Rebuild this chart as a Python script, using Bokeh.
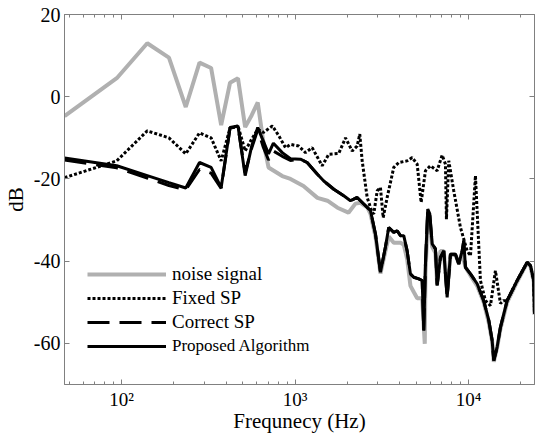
from bokeh.plotting import figure
from bokeh.models import (Range1d, LogAxis, LinearAxis, Legend, LegendItem, LogTicker,
                          FixedTicker, CustomJSTickFormatter)
from bokeh.embed import file_html
from bokeh.resources import INLINE

# ---------------- data ----------------
noise_freq = [46.9, 93.8, 140.6, 187.5, 234.4, 281.3, 328.1, 375.0, 421.9, 468.8, 515.6, 562.5,
              609.4, 656.3, 703.1, 843.8, 941, 1118, 1346, 1537, 1756, 2032, 2229, 2382, 2614,
              2721, 2907, 3106, 3320, 3468, 3706, 4051, 4232, 4427, 4625, 4833, 5058, 5403, 5594,
              5645, 5820, 5979, 6170, 6445, 6592, 6886, 7198, 7528, 7868, 8405, 8782, 9188, 9600,
              10260, 11210, 12230, 13080, 13680, 13980, 14620, 15270, 16690, 19070, 21770, 22750,
              23770, 24000]
noise_db = [-4.7, 4.5, 13.0, 9.5, -2.5, 8.3, 7.0, -6.9, 3.4, 4.5, -7.4, -4.5,
            -1.4, -11.0, -17.2, -19.3, -20.0, -21.7, -24.6, -25.3, -27.0, -28.2, -26.0, -25.8, -27.0,
            -28.5, -34.0, -43.0, -37.5, -34.0, -35.5, -35.5, -36.0, -39.5, -46.0, -47.5, -49.0, -49.0, -60.1,
            -43.0, -30.0, -31.0, -36.5, -38.0, -45.5, -37.5, -37.5, -47.5, -38.5, -38.5, -40.5, -38.0, -41.5,
            -43.5, -46.0, -50.0, -55.0, -59.5, -64.5, -61.0, -56.5, -50.0, -45.0, -40.4, -41.3,
            -45.0, -53.0]

fixed_freq = [46.9, 93.8, 140.6, 187.5, 234.4, 281.3, 328.1, 375.0, 421.9, 468.8, 515.6, 562.5,
              609.4, 656.3, 740, 806, 881, 941, 1050, 1148, 1255, 1433, 1564, 1786, 1953, 2134,
              2280, 2360, 2437, 2604, 2783, 2843, 2974, 3106, 3220, 3396, 3706, 3961, 4427, 4731,
              5058, 5331, 5645, 6032, 6592, 7044, 7361, 7457, 7692, 8219, 8981, 9817, 10260, 10960,
              11710, 12510, 13380, 14290, 15270, 15890, 16690, 19070, 21770, 22750, 23770, 24000]
fixed_db = [-19.7, -15.6, -8.3, -10.0, -13.9, -8.8, -10.0, -15.6, -7.6, -7.1, -13.2, -10.3,
            -7.9, -8.7, -7.1, -9.5, -12.4, -11.6, -12.0, -13.6, -12.4, -16.8, -14.0, -13.8, -10.0, -13.2,
            -12.0, -9.1, -15.6, -24.5, -28.2, -28.5, -22.9, -22.1, -29.4, -24.5, -17.2, -16.0, -15.6, -14.8,
            -16.4, -25.7, -18.0, -16.8, -18.0, -14.2, -16.4, -29.8, -15.6, -22.9, -31.8, -37.5, -38.7, -19.2,
            -44.7, -49.6, -50.8, -42.3, -50.3, -49.6, -49.6, -44.7, -40.3, -41.1, -44.7, -52.8]

alg_freq = [46.9, 93.8, 140.6, 187.5, 234.4, 281.3, 328.1, 375.0, 421.9, 468.8, 515.6, 562.5,
            609.4, 656.3, 703.1, 750.0, 843.8, 941, 1074, 1174, 1341, 1464, 1672, 1909, 2086, 2280,
            2489, 2721, 2907, 3106, 3320, 3468, 3706, 3878, 4051, 4232, 4427, 4625, 4833, 5166, 5403,
            5520, 5645, 5820, 5979, 6170, 6445, 6592, 6886, 7198, 7528, 7868, 8405, 8782, 9188, 9385,
            9600, 10260, 11210, 12230, 13080, 13680, 13980, 14620, 15270, 16690, 19070, 21770, 22750,
            23770, 24000]
correct_db = [-15.4, -17.3, -19.8, -21.6, -22.6, -17.7, -18.6, -22.3, -7.6, -7.3, -18.5, -12.5,
              -8.0, -12.3, -15.4, -13.2, -14.5, -15.5, -15.2, -16.0, -18.8, -20.5, -22.5, -24.1, -25.3, -24.5,
              -26.1, -27.7, -33.4, -42.7, -36.5, -31.8, -33.0, -32.6, -33.8, -33.8, -37.5, -43.1, -43.9, -44.3, -44.7,
              -56.9, -40.7, -27.3, -28.5, -35.8, -37.0, -45.9, -39.1, -37.5, -48.8, -38.3, -38.3, -40.7, -37.5, -35.0,
              -41.5, -43.1, -45.5, -49.6, -54.4, -59.3, -64.2, -60.9, -56.1, -49.6, -44.7, -40.3, -41.1,
              -44.7, -52.8]
proposed_db = [-14.9, -16.8, -19.2, -20.9, -22.2, -16.0, -17.2, -22.1, -7.5, -7.1, -19.2, -12.0,
               -7.5, -10.8, -13.9, -11.3, -13.6, -15.1, -15.2, -16.0, -18.8, -20.5, -22.5, -24.1, -25.3, -24.5,
               -26.1, -27.7, -33.4, -42.7, -36.5, -31.8, -33.0, -32.6, -33.8, -33.8, -37.5, -43.1, -43.9, -44.3, -44.7,
               -56.9, -40.7, -27.3, -28.5, -35.8, -37.0, -45.9, -39.1, -37.5, -48.8, -38.3, -38.3, -40.7, -37.5, -35.0,
               -41.5, -43.1, -45.5, -49.6, -54.4, -59.3, -64.2, -60.9, -56.1, -49.6, -44.7, -40.3, -41.1,
               -44.7, -52.8]

labels = ["noise signal", "Fixed SP", "Correct SP", "Proposed Algorithm"]
x_label = "Frequnecy (Hz)"
y_label = "dB"
y_ticks = [-60, -40, -20, 0, 20]

FONT = "Liberation Serif"
AX = "#808080"

p = figure(width=535, height=439, x_axis_type="log",
           x_range=Range1d(46.875, 24000), y_range=Range1d(-70, 20),
           output_backend="svg", toolbar_location=None,
           min_border_left=64, min_border_right=1, min_border_top=14, min_border_bottom=55)
p.xgrid.visible = False
p.ygrid.visible = False
p.outline_line_color = AX
p.background_fill_color = "white"
p.border_fill_color = "white"

r_noise = p.line(noise_freq, noise_db, line_color="#b0b0b0", line_width=4)
r_fixed = p.line(fixed_freq, fixed_db, line_color="black", line_width=3, line_dash="3 2")
r_corr = p.line(alg_freq, correct_db, line_color="black", line_width=3, line_dash="22 10")
r_prop = p.line(alg_freq, proposed_db, line_color="black", line_width=3)

fmt = CustomJSTickFormatter(code="""
const e = Math.round(Math.log10(tick));
const s = {"1":"\\u00b9","2":"\\u00b2","3":"\\u00b3","4":"\\u2074","5":"\\u2075"};
return "10" + (s[String(e)] || String(e));
""")
yfmt = CustomJSTickFormatter(code="return tick.toFixed(0);")
blank = CustomJSTickFormatter(code="return '';")

xa = p.xaxis[0]
xa.ticker = LogTicker(desired_num_ticks=3, num_minor_ticks=10)
xa.formatter = fmt
xa.axis_label = x_label
ya = p.yaxis[0]
ya.ticker = FixedTicker(ticks=y_ticks)
ya.formatter = yfmt
ya.axis_label = y_label

for ax in (xa, ya):
    ax.axis_line_color = AX
    ax.major_tick_line_color = AX
    ax.minor_tick_line_color = AX
    ax.major_tick_in = 5
    ax.major_tick_out = 0
    ax.minor_tick_in = 3
    ax.minor_tick_out = 0
    ax.major_label_text_font = FONT
    ax.major_label_text_color = "black"
    ax.axis_label_text_font = FONT
    ax.axis_label_text_font_style = "normal"
    ax.axis_label_text_color = "black"
    ax.axis_label_text_font_size = "21px"

xa.major_label_text_font_size = "19px"
xa.major_label_standoff = 4
xa.axis_label_standoff = -4
ya.major_label_text_font_size = "20px"
ya.major_label_standoff = 4
ya.axis_label_standoff = 3
ya.minor_tick_line_color = None

top = LogAxis(ticker=LogTicker(desired_num_ticks=3, num_minor_ticks=10), formatter=blank,
              major_label_text_font_size="2px", major_label_standoff=0,
              axis_line_color=AX, major_tick_line_color=AX, minor_tick_line_color=AX,
              major_tick_in=5, major_tick_out=0, minor_tick_in=3, minor_tick_out=0)
right = LinearAxis(ticker=FixedTicker(ticks=y_ticks), formatter=blank,
                   major_label_text_font_size="2px", major_label_standoff=0,
                   axis_line_color=AX, major_tick_line_color=AX, minor_tick_line_color=None,
                   major_tick_in=5, major_tick_out=0)
p.add_layout(top, "above")
p.add_layout(right, "right")

common = dict(border_line_color=None, background_fill_alpha=0, padding=0, margin=0,
              spacing=0, glyph_width=79, glyph_height=24, label_height=24, label_standoff=6,
              label_text_font=FONT, label_text_color="black")
leg1 = Legend(items=[LegendItem(label=labels[0], renderers=[r_noise]),
                     LegendItem(label=labels[1], renderers=[r_fixed]),
                     LegendItem(label=labels[2], renderers=[r_corr])],
              location=(23, 50), label_text_font_size="19px", **common)
leg2 = Legend(items=[LegendItem(label=labels[3], renderers=[r_prop])],
              location=(23, 26), label_text_font_size="17px", **common)
p.add_layout(leg1)
p.add_layout(leg2)

open("out.html", "w", encoding="utf-8").write(file_html(p, INLINE))
